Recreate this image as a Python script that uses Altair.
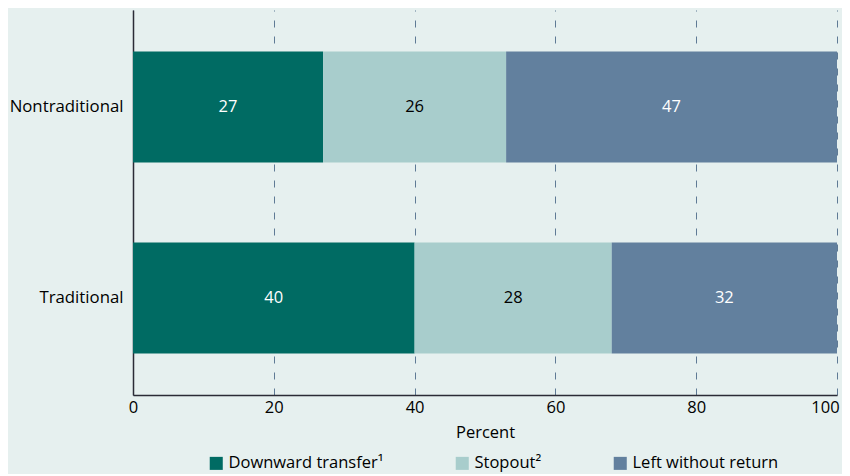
import altair as alt
import pandas as pd

groups = ["Nontraditional", "Traditional"]
categories = ["Downward transfer¹", "Stopout²", "Left without return"]
nontrad = [27, 26, 47]
trad = [40, 28, 32]
colors = ["#006b63", "#a8cdcc", "#62809e"]
text_colors = ["white", "black", "white"]

rows = []
for g, vals in zip(groups, [nontrad, trad]):
    for i, (c, v) in enumerate(zip(categories, vals)):
        rows.append({"group": g, "category": c, "value": v, "order": i,
                     "tcolor": text_colors[i]})
df = pd.DataFrame(rows)

FONT = "Open Sans"
AXIS_COLOR = "#2b2b36"

base = alt.Chart(df).encode(
    y=alt.Y("group:N", sort=groups, title=None,
            scale=alt.Scale(paddingInner=0.419, paddingOuter=0.217),
            axis=alt.Axis(ticks=False, domainColor=AXIS_COLOR, domainWidth=1.5,
                          labelFontSize=16.8, labelColor="black", labelPadding=10,
                          labelFont=FONT, grid=False)),
)

bars = base.mark_bar().encode(
    x=alt.X("sum(value):Q", stack="zero", title="Percent",
            scale=alt.Scale(domain=[0, 100], nice=False),
            axis=alt.Axis(values=[0, 20, 40, 60, 80, 100], ticks=False,
                          domainColor=AXIS_COLOR, domainWidth=1.5, labelFlush=False,
                          labelOffset={"condition": {"test": "datum.value === 100", "value": -12},
                                       "value": 0},
                          grid=True, gridColor="#5f7a95", gridDash=[7, 9],
                          gridWidth=1, labelFontSize=16.5, labelColor="black",
                          labelFont=FONT, labelPadding=4, titleFont=FONT,
                          titleFontSize=16.5, titleFontWeight="normal",
                          titleColor="black", titlePadding=9)),
    color=alt.Color("category:N", sort=categories,
                    scale=alt.Scale(domain=categories, range=colors),
                    legend=alt.Legend(title=None, orient="none", direction="horizontal",
                                      legendX=75, legendY=445, symbolType="square",
                                      symbolSize=170, symbolStrokeWidth=0,
                                      labelFontSize=16.5, labelFont=FONT,
                                      labelColor="black", columnPadding=70,
                                      labelLimit=300, symbolOpacity=1)),
    order=alt.Order("order:Q"),
)

texts = base.mark_text(fontSize=16.5, font=FONT).encode(
    x=alt.X("mid:Q"),
    text=alt.Text("value:Q"),
    color=alt.Color("tcolor:N", scale=None),
).transform_window(
    cum="sum(value)", groupby=["group"], sort=[alt.SortField("order")],
    frame=[None, 0]
).transform_calculate(mid="datum.cum - datum.value / 2")

chart = alt.layer(bars, texts).properties(
    width=704, height=385,
    background="#e6f0ef",
    padding={"left": 125, "top": 2, "right": 5, "bottom": 79},
    autosize=alt.AutoSizeParams(type="none"),
).configure_view(stroke=None)

chart.save("out.html", embed_options={"renderer": "svg", "actions": False})
